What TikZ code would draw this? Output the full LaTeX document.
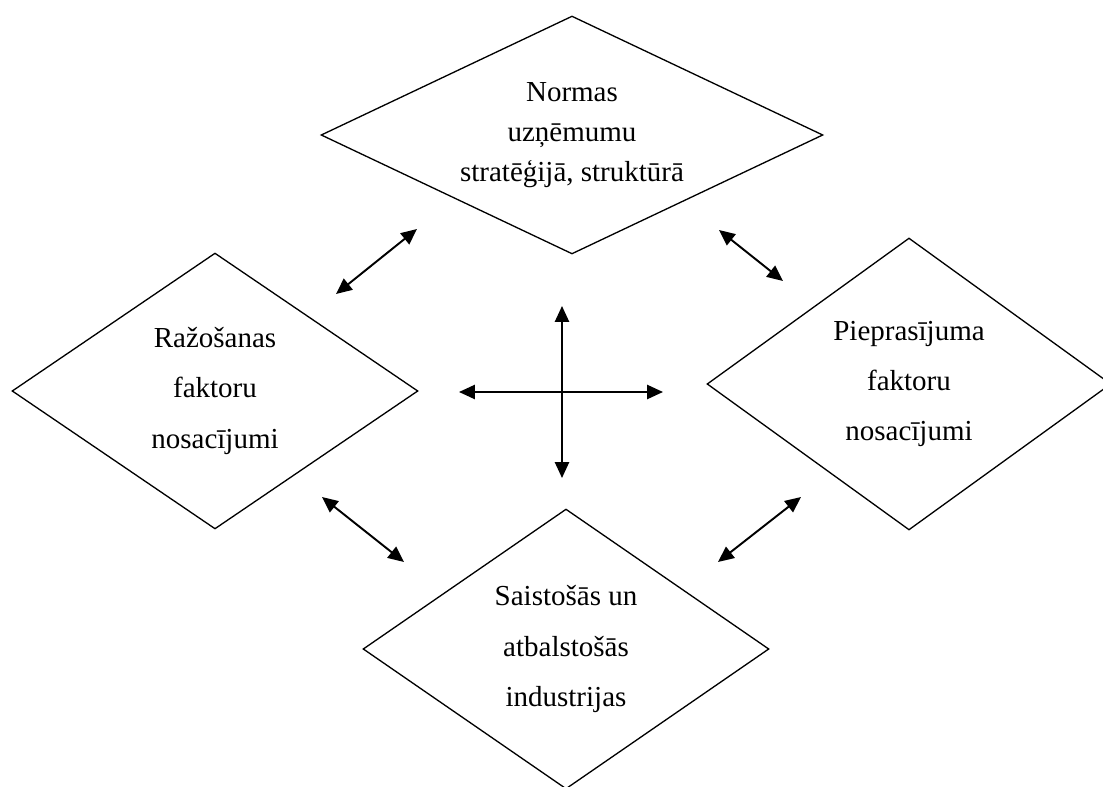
\documentclass[tikz,border=0pt]{standalone}
\usepackage{fontspec}
\setmainfont{Liberation Serif}
\usetikzlibrary{shapes.geometric,arrows.meta}

\begin{document}
\begin{tikzpicture}[
    x=0.02cm, y=-0.02cm,
    font=\fontsize{16.5pt}{28.5pt}\selectfont, >={Triangle[length=9pt,width=8pt]},
    factor/.style={draw, diamond, aspect=1.45, line width=0.75pt, inner sep=0pt, align=center},
    link/.style  ={<->, line width=1.1pt}
]
\useasboundingbox (0,0) rectangle (1103,787);
\clip (0,0) rectangle (1103,787);

% --- Four determinants ---
\node[factor, aspect=2.1, minimum width=10.04cm, minimum height=4.76cm, font=\fontsize{16.5pt}{22.8pt}\selectfont]
    (norm) at (572,135) {Normas\\uzņēmumu\\stratēģijā, struktūrā};
\node[factor, minimum width=8.12cm, minimum height=5.52cm] (prod) at (215,391) {Ražošanas\\faktoru\\nosacījumi};
\node[factor, minimum width=8.08cm, minimum height=5.84cm] (dem)  at (909,384) {Pieprasījuma\\faktoru\\nosacījumi};
\node[factor, minimum width=8.12cm, minimum height=5.60cm] (ind)  at (566,649) {Saistošās un\\atbalstošās\\industrijas};

% --- Arrow ends between the diamonds ---
\coordinate (tl1) at (336,294); \coordinate (tl2) at (417,229);
\coordinate (tr1) at (719,230); \coordinate (tr2) at (783,281);
\coordinate (bl1) at (322,497); \coordinate (bl2) at (404,562);
\coordinate (br1) at (718,562); \coordinate (br2) at (801,497);

% --- Central cross ---
\coordinate (cn) at (562,306); \coordinate (cs) at (562,478);
\coordinate (cw) at (459,392); \coordinate (ce) at (663,392);

% --- Double arrows ---
\draw[link] (tl1) -- (tl2);
\draw[link] (tr1) -- (tr2);
\draw[link] (bl1) -- (bl2);
\draw[link] (br1) -- (br2);
\draw[link] (cn) -- (cs);
\draw[link] (cw) -- (ce);

\end{tikzpicture}
\end{document}
